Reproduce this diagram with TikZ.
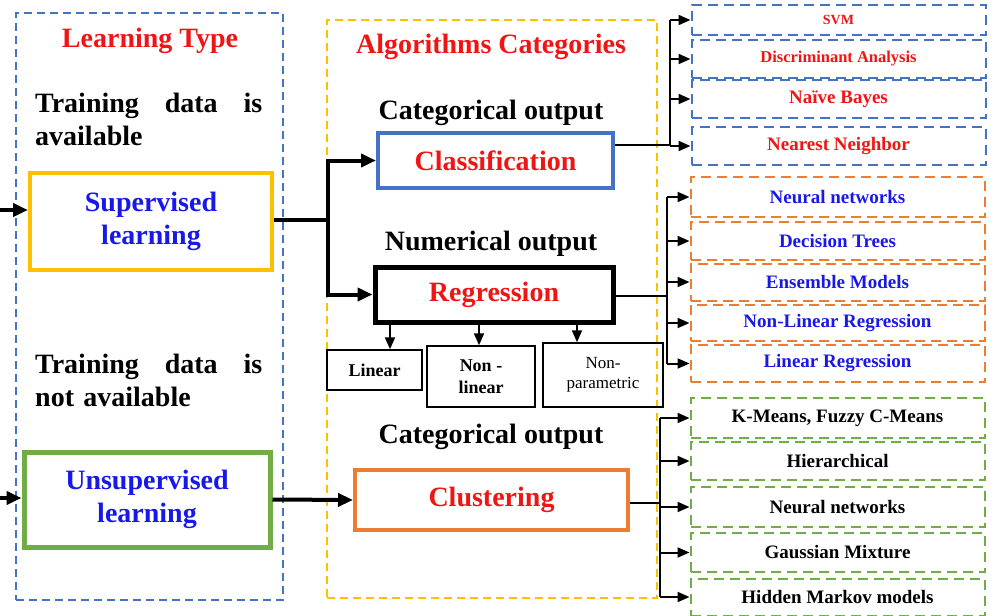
\documentclass[tikz,border=0pt]{standalone}
\usepackage{fontspec}
\setmainfont{Liberation Serif}
\usepackage{xcolor}
\usetikzlibrary{positioning, arrows.meta}
\definecolor{gold}{HTML}{FFC000}
\definecolor{msblue}{HTML}{4472C4}
\definecolor{msgreen}{HTML}{70AD47}
\definecolor{msorange}{HTML}{ED7D31}
\definecolor{txtred}{HTML}{F01414}
\definecolor{txtblue}{HTML}{1818E8}

\begin{document}
\begin{tikzpicture}[x=1pt, y=-1pt, >={Triangle[length=12pt, width=10pt]},
  big/.style={font=\bfseries\fontsize{28}{33}\selectfont},
  kind/.style={draw, line width=4pt, align=center, inner sep=0pt, big},
  grp/.style={draw, line width=1.5pt, dash pattern=on 8pt off 5pt, inner sep=0pt},
  sub/.style={draw, line width=1.5pt, align=center, inner sep=0pt, font=\bfseries\fontsize{18}{22}\selectfont},
  alg/.style={draw, line width=2pt, dash pattern=on 10pt off 6pt, minimum width=294pt, inner sep=0pt},
  cl/.style={alg, msblue, text=txtred, font=\bfseries\fontsize{19}{22}\selectfont},
  rg/.style={alg, msorange, text=txtblue, font=\bfseries\fontsize{19}{22}\selectfont},
  cu/.style={alg, msgreen, text=black, font=\bfseries\fontsize{19}{22}\selectfont},
  link/.style={line width=4pt, >={Triangle[length=15pt, width=13pt]}},
  wire/.style={line width=2pt}]
\useasboundingbox (0,0) rectangle (994,616);

\node[grp, msblue, minimum width=267pt, minimum height=587pt] (ltbox) at (149.5,306.5) {};
\node[grp, gold, minimum width=330pt, minimum height=578pt] (acbox) at (492,309) {};

\node[big, text=txtred, anchor=base] (lt) at (150,47) {Learning Type};
\node[big, text width=227pt, align=left, anchor=north west, inner sep=0pt] (avl) at (35,93) {Training\hfill data\hfill is\\available};
\node[big, text width=227pt, align=left, anchor=north west, inner sep=0pt] (navl) at (35,354) {Training\hfill data\hfill is\\not available};
\node[kind, gold, text=txtblue, minimum width=242pt, minimum height=97pt] (sup) at (151,221.5) {Supervised\\learning};
\node[kind, msgreen, line width=5pt, text=txtblue, minimum width=246pt, minimum height=95pt] (uns) at (147,499.5) {Unsupervised\\learning};

\node[big, text=txtred, anchor=base] (ac) at (491,53) {Algorithms Categories};
\node[big, anchor=base] (co1) at (491,119) {Categorical output};
\node[kind, msblue, text=txtred, minimum width=235pt, minimum height=55pt] (cls) at (495.5,160.5) {Classification};
\node[big, anchor=base] (no) at (491,250) {Numerical output};
\node[kind, line width=5pt, text=txtred, minimum width=238pt, minimum height=55pt] (reg) at (494,294.5) {Regression};
\node[sub, minimum width=95pt, minimum height=40pt] (lin) at (374.5,370) {Linear};
\node[sub, minimum width=108pt, minimum height=61pt] (nlin) at (481,376.5) {Non -\\linear};
\node[sub, font=\fontsize{17}{20}\selectfont, minimum width=120pt, minimum height=64pt] (npar) at (603,375) {Non-\\parametric};
\node[big, anchor=base] (co2) at (491,443) {Categorical output};
\node[kind, msorange, text=txtred, minimum width=273pt, minimum height=60pt] (clu) at (491.5,500) {Clustering};

\node[cl, font=\bfseries\fontsize{14}{16}\selectfont, minimum height=30pt] (svm) at (838.5,20) {SVM};
\node[cl, font=\bfseries\fontsize{16.5}{19}\selectfont, minimum height=38pt] (dis) at (838.5,59) {Discriminant Analysis};
\node[cl, minimum height=38pt] (nb) at (838.5,99) {Naïve Bayes};
\node[cl, minimum height=38pt] (nn) at (838.5,146) {Nearest Neighbor};

\node[rg, minimum height=40pt] (nnr) at (837.5,197) {Neural networks};
\node[rg, minimum height=38pt] (dt) at (837.5,241) {Decision Trees};
\node[rg, minimum height=37pt] (em) at (837.5,282) {Ensemble Models};
\node[rg, minimum height=36pt] (nlr) at (837.5,323) {Non-Linear Regression};
\node[rg, minimum height=37pt] (lr) at (837.5,363.5) {Linear Regression};

\node[cu, minimum height=40pt] (km) at (837.5,418) {K-Means, Fuzzy C-Means};
\node[cu, minimum height=38pt] (hi) at (837.5,461) {Hierarchical};
\node[cu, minimum height=40pt] (nnc) at (837.5,507) {Neural networks};
\node[cu, minimum height=39pt] (gm) at (837.5,552.5) {Gaussian Mixture};
\node[cu, minimum height=37pt] (hm) at (837.5,597) {Hidden Markov models};

\coordinate (in1) at (0,210);
\coordinate (in2) at (0,498);
\draw[link, ->] (in1) -- (in1 -| sup.west);
\draw[link, ->] (in2) -- (in2 -| uns.west);

\coordinate (sj) at (328,220);
\draw[link] (sup.east |- sj) -- (sj);
\draw[link, ->] (sj) |- (cls.west);
\draw[link, ->] (sj) |- (reg.west);
\draw[link, ->] (uns.east) -- (clu.west);

\draw[wire, ->] (reg.south -| 390,0) -- (lin.north -| 390,0);
\draw[wire, ->] (reg.south -| 479,0) -- (nlin.north -| 479,0);
\draw[wire, ->] (reg.south -| 577,0) -- (npar.north -| 577,0);

\coordinate (cb) at (670,145);
\draw[wire] (cls.east |- cb) -- (cb);
\draw[wire] (cb |- svm) -- (cb |- nn);
\foreach \n in {svm, dis, nb, nn}
  \draw[wire, ->] (cb |- \n.west) -- (\n.west);

\coordinate (rb) at (667,296);
\draw[wire] (reg.east |- rb) -- (rb);
\draw[wire] (rb |- nnr) -- (rb |- lr);
\foreach \n in {nnr, dt, em, nlr, lr}
  \draw[wire, ->] (rb |- \n.west) -- (\n.west);

\coordinate (ub) at (660,503);
\draw[wire] (clu.east |- ub) -- (ub);
\draw[wire] (ub |- km) -- (ub |- hm);
\foreach \n in {km, hi, nnc, gm, hm}
  \draw[wire, ->] (ub |- \n.west) -- (\n.west);
\end{tikzpicture}
\end{document}
